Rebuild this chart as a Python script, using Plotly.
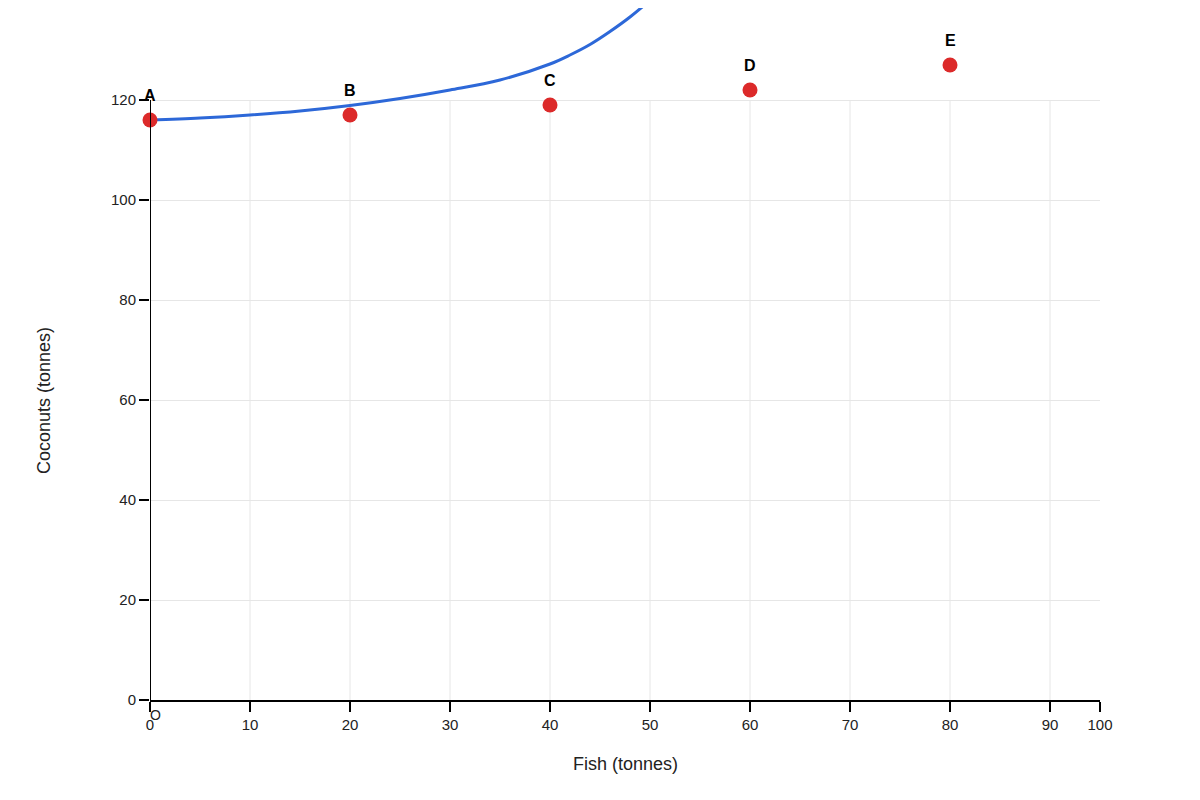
import plotly.graph_objects as go

# points A-F (fish on the axis scale, coconuts)
point_labels = ["A", "B", "C", "D", "E", "F"]
point_fish = [0, 20, 40, 60, 80, 95]
point_coconuts = [116, 117, 119, 122, 127, 140]

# blue curve
curve_fish = [0, 5, 10, 15, 20, 25, 30, 35, 40, 42, 44, 46, 48, 50, 51]
curve_coconuts = [116, 116.4, 117, 117.8, 118.9, 120.3, 122, 124, 127.2, 129, 131.1, 133.7, 136.6, 140, 142]

x_ticks = [0, 10, 20, 30, 40, 50, 60, 70, 80, 90, 95]
x_ticktext = ["0", "10", "20", "30", "40", "50", "60", "70", "80", "90", "100"]
y_ticks = [0, 20, 40, 60, 80, 100, 120]

FONT = "Liberation Sans, Arial, sans-serif"

fig = go.Figure()

fig.add_trace(go.Scatter(
    x=curve_fish, y=curve_coconuts, mode="lines",
    line=dict(color="#2d68d8", width=3, shape="spline"),
    hoverinfo="skip",
))
fig.add_trace(go.Scatter(
    x=point_fish, y=point_coconuts, mode="markers",
    marker=dict(color="#dc2a2a", size=15),
    cliponaxis=False,
))

# vertical grid lines only up to the top tick
shapes = []
for t in x_ticks[1:-1]:
    shapes.append(dict(type="line", xref="x", yref="y", x0=t, x1=t, y0=0, y1=y_ticks[-1],
                       line=dict(color="#e6e6e6", width=1), layer="below"))
# y axis line
shapes.append(dict(type="line", xref="x", yref="y", x0=0, x1=0, y0=0, y1=y_ticks[-1],
                   line=dict(color="black", width=2)))

annotations = []
for lab, fx, cy in zip(point_labels, point_fish, point_coconuts):
    annotations.append(dict(x=fx, y=cy, text="<b>%s</b>" % lab, showarrow=False,
                            yshift=25, font=dict(size=16, color="black", family=FONT)))
annotations.append(dict(x=0, y=0, text="O", showarrow=False, xshift=5, yshift=-15,
                        font=dict(size=14, color="#222", family=FONT)))
annotations.append(dict(xref="paper", yref="y", x=-0.1116, y=60, text="Coconuts (tonnes)",
                        textangle=-90, showarrow=False, xanchor="center", yanchor="middle",
                        font=dict(size=18, color="#222", family=FONT)))
annotations.append(dict(xref="paper", yref="paper", x=0.5, y=-0.0925, text="Fish (tonnes)",
                        showarrow=False, xanchor="center", yanchor="middle",
                        font=dict(size=18, color="#222", family=FONT)))

fig.update_layout(
    width=1200, height=800,
    margin=dict(l=142, r=108, t=0, b=108),
    plot_bgcolor="white", paper_bgcolor="white",
    showlegend=False,
    font=dict(family=FONT, size=15, color="#222"),
    shapes=shapes,
    annotations=annotations,
)
fig.update_xaxes(
    range=[0, 95], tickvals=x_ticks, ticktext=x_ticktext,
    showgrid=False, zeroline=False,
    showline=True, linecolor="black", linewidth=2,
    ticks="outside", ticklen=10, tickwidth=2, tickcolor="black",
)
fig.update_yaxes(
    range=[0, 138.4], tickvals=y_ticks,
    showgrid=True, gridcolor="#e6e6e6", gridwidth=1, zeroline=False,
    showline=False,
    ticks="outside", ticklen=10, tickwidth=2, tickcolor="black",
)

fig.write_html("out.html")
